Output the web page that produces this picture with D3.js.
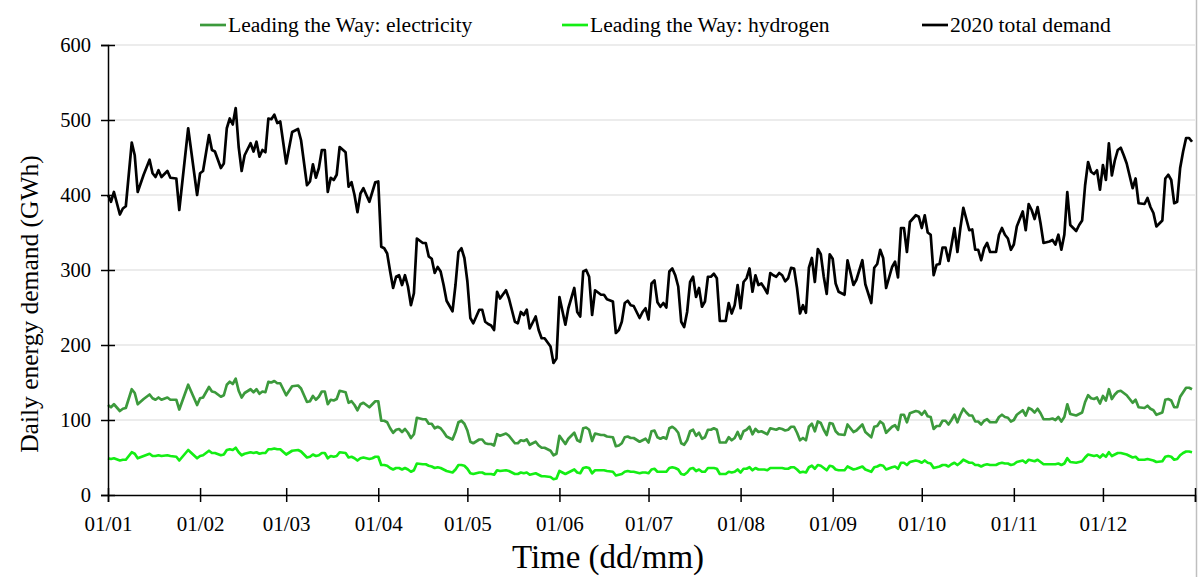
<!DOCTYPE html>
<html>
<head>
<meta charset="utf-8">
<script src="https://cdn.jsdelivr.net/npm/d3@7"></script>
<style>
  html, body { margin: 0; padding: 0; background: #fff; }
  svg { display: block; }
  text { font-family: "Liberation Serif", "Times New Roman", serif; fill: #000; }
</style>
</head>
<body>
<svg id="chart" width="1203" height="577"></svg>
<script>
// Day of year (0 = 1 January 2020) for each daily reading
const days = [
  0,1,2,4,5,6,8,9,10,12,
  14,15,16,17,18,20,21,23,24,27,
  30,31,32,34,35,36,38,39,40,41,
  42,43,44,45,46,48,49,50,51,52,
  53,54,55,56,57,58,60,62,64,65,
  67,68,69,70,71,72,73,74,75,76,
  77,78,80,81,82,83,84,85,86,88,
  89,90,91,92,93,94,95,96,97,98,
  99,100,101,102,103,104,106,107,108,109,
  110,111,112,113,114,116,117,118,119,120,
  121,122,123,125,126,127,128,129,130,131,
  132,134,135,137,138,139,140,141,142,144,
  145,146,147,149,150,151,152,154,155,157,
  158,159,160,161,162,163,164,166,167,168,
  170,171,172,173,174,175,176,177,179,180,
  181,182,183,184,185,186,187,188,189,190,
  191,192,193,194,195,196,197,198,199,200,
  201,202,203,204,205,206,208,209,210,211,
  212,213,214,215,216,217,218,219,220,221,
  222,223,224,225,226,227,228,229,230,231,
  232,233,234,235,236,237,238,239,240,241,
  242,243,244,245,246,248,249,251,252,254,
  255,257,258,259,260,261,262,264,265,266,
  267,268,269,270,272,273,274,275,276,277,
  278,279,280,281,282,283,284,285,286,287,
  288,289,290,291,292,293,294,295,296,297,
  299,300,301,302,303,304,305,306,308,309,
  310,311,312,313,314,315,317,318,319,320,
  321,322,323,324,326,327,328,329,330,331,
  332,333,334,335,336,337,338,339,340,341,
  342,343,345,346,347,349,350,351,352,353,
  355,356,357,358,359,360,361,362,363,364,
  365
];

// 2020 total demand (GWh per day)
const totalDemand = [
  400,391,404,374,382,385,470,453,404,427,
  447,429,424,433,424,432,423,422,380,489,
  400,429,432,480,460,458,436,442,489,502,
  494,516,464,432,453,469,458,471,451,460,
  457,502,501,507,496,498,442,484,488,473,
  413,418,441,423,436,460,460,404,423,420,
  427,464,457,411,417,400,377,402,409,391,
  404,417,418,331,329,322,298,276,291,293,
  280,293,278,253,269,342,336,336,318,315,
  296,304,298,280,259,245,280,324,329,316,
  285,236,229,247,247,231,228,226,220,271,
  262,273,262,231,229,244,240,247,222,238,
  220,209,209,198,176,182,264,227,249,276,
  244,238,298,300,291,240,273,267,267,261,
  258,216,220,231,256,259,253,252,236,244,
  249,234,282,286,257,251,256,250,298,302,
  293,278,231,224,244,284,291,264,276,251,
  258,291,291,295,289,232,232,256,242,253,
  280,249,284,289,302,271,293,280,282,276,
  269,296,293,291,296,293,285,289,303,302,
  276,242,253,243,303,316,284,328,321,291,
  268,321,315,282,271,267,313,280,287,313,
  281,256,303,308,327,316,276,304,311,290,
  356,356,324,364,373,371,356,373,350,347,
  293,307,308,330,330,312,333,356,324,356,
  383,368,353,354,327,327,313,329,336,324,
  324,347,356,347,342,327,334,358,378,353,
  388,380,368,384,362,336,338,340,334,347,
  327,347,404,360,352,360,366,413,444,431,
  428,433,407,440,420,469,426,446,460,463,
  453,442,409,422,389,388,396,384,376,358,
  366,422,427,420,389,391,436,458,476,476,
  471
];

// Leading the Way: electricity (GWh per day)
const electricity = [
  120,117,121,112,115,116,141,136,121,128,
  134,129,127,130,127,130,127,127,114,147,
  120,129,130,144,138,137,131,133,147,151,
  148,155,139,130,136,141,137,141,135,138,
  137,151,150,152,149,149,133,145,146,142,
  124,125,132,127,131,138,138,121,127,126,
  128,139,137,123,125,120,113,121,123,117,
  121,125,125,99,99,97,89,83,87,88,
  84,88,83,76,81,103,101,101,95,95,
  89,91,89,84,78,74,84,97,99,95,
  86,71,69,74,74,69,68,68,66,81,
  79,82,79,69,69,73,72,74,67,71,
  66,63,63,59,53,55,79,68,75,83,
  73,71,89,90,87,72,82,80,80,78,
  77,65,66,69,77,78,76,76,71,73,
  75,70,85,86,77,75,77,75,89,91,
  88,83,69,67,73,85,87,79,83,75,
  77,87,87,89,87,70,70,77,73,76,
  84,75,85,87,91,81,88,84,85,83,
  81,89,88,87,89,88,86,87,91,91,
  83,73,76,73,91,95,85,98,96,87,
  80,96,95,85,81,80,94,84,86,94,
  84,77,91,92,98,95,83,91,93,87,
  107,107,97,109,112,111,107,112,105,104,
  88,92,92,99,99,94,100,107,97,107,
  115,110,106,106,98,98,94,99,101,97,
  97,104,107,104,103,98,100,107,113,106,
  116,114,110,115,109,101,101,102,100,104,
  98,104,121,108,106,108,110,124,133,129,
  128,130,122,132,126,141,128,134,138,139,
  136,133,123,127,117,116,119,115,113,107,
  110,127,128,126,117,117,131,137,143,143,
  141
];

// Leading the Way: hydrogen (GWh per day)
const hydrogen = [
  49,48,49,46,47,47,57,55,49,52,
  55,52,52,53,52,53,52,51,46,60,
  49,52,53,59,56,56,53,54,60,61,
  60,63,57,53,55,57,56,57,55,56,
  56,61,61,62,61,61,54,59,60,58,
  50,51,54,52,53,56,56,49,52,51,
  52,57,56,50,51,49,46,49,50,48,
  49,51,51,40,40,39,36,34,36,36,
  34,36,34,31,33,42,41,41,39,38,
  36,37,36,34,32,30,34,40,40,39,
  35,29,28,30,30,28,28,28,27,33,
  32,33,32,28,28,30,29,30,27,29,
  27,25,25,24,21,22,32,28,30,34,
  30,29,36,37,36,29,33,33,33,32,
  31,26,27,28,31,32,31,31,29,30,
  30,29,34,35,31,31,31,31,36,37,
  36,34,28,27,30,35,36,32,34,31,
  31,36,36,36,35,28,28,31,30,31,
  34,30,35,35,37,33,36,34,34,34,
  33,36,36,36,36,36,35,35,37,37,
  34,30,31,30,37,39,35,40,39,36,
  33,39,38,34,33,33,38,34,35,38,
  34,31,37,38,40,39,34,37,38,35,
  43,43,40,44,46,45,43,46,43,42,
  36,37,38,40,40,38,41,43,40,43,
  47,45,43,43,40,40,38,40,41,40,
  40,42,43,42,42,40,41,44,46,43,
  47,46,45,47,44,41,41,41,41,42,
  40,42,49,44,43,44,45,50,54,53,
  52,53,50,54,51,57,52,54,56,56,
  55,54,50,51,47,47,48,47,46,44,
  45,51,52,51,47,48,53,56,58,58,
  57
];

// Axis ticks
const monthStartDays = [0,31,60,91,121,152,182,213,244,274,305,335,366];
const monthLabels = ["01/01","01/02","01/03","01/04","01/05","01/06","01/07","01/08","01/09","01/10","01/11","01/12",""];
const demandTicks = [0,100,200,300,400,500,600];

const seriesNames = ["Leading the Way: electricity", "Leading the Way: hydrogen", "2020 total demand"];

// ---- layout & style ----
const plot = { left: 108, right: 1195, top: 45, bottom: 495 };
const colors = ["#3c9a3c", "#14ee14", "#000000"];
const svg = d3.select("#chart");

const x = d3.scaleLinear().domain([0, 366]).range([plot.left, plot.right]);
const y = d3.scaleLinear().domain([0, 600]).range([plot.bottom, plot.top]);

// horizontal gridlines
svg.append("g")
  .selectAll("line")
  .data(demandTicks.filter(d => d > 0))
  .join("line")
  .attr("x1", plot.left).attr("x2", plot.right)
  .attr("y1", d => y(d)).attr("y2", d => y(d))
  .attr("stroke", "#d9d9d9").attr("stroke-width", 1);

// right border
svg.append("line")
  .attr("x1", plot.right + 1.5).attr("x2", plot.right + 1.5)
  .attr("y1", 0).attr("y2", 577)
  .attr("stroke", "#bfbfbf").attr("stroke-width", 1.5);

// series lines
const series = [electricity, hydrogen, totalDemand];
const line = d3.line()
  .x((d, i) => x(days[i]))
  .y(d => y(d));

series.forEach((vals, k) => {
  svg.append("path")
    .datum(vals)
    .attr("fill", "none")
    .attr("stroke", colors[k])
    .attr("stroke-width", 2.7)
    .attr("stroke-linejoin", "round")
    .attr("d", line);
});

// y axis
const yAxis = svg.append("g")
  .attr("transform", `translate(${plot.left},0)`)
  .call(d3.axisLeft(y).tickValues(demandTicks).tickSize(7).tickPadding(10));
yAxis.select(".domain").attr("stroke", "#000").attr("stroke-width", 1.5);
yAxis.selectAll(".tick line").attr("x1", -7).attr("x2", 7).attr("stroke", "#000").attr("stroke-width", 1.5);
yAxis.selectAll(".tick text").style("font-size", "20.5px").style("font-family", '"Liberation Serif", serif');

// x axis
const xAxis = svg.append("g")
  .attr("transform", `translate(0,${plot.bottom})`)
  .call(d3.axisBottom(x).tickValues(monthStartDays)
    .tickFormat((d, i) => monthLabels[i]).tickSize(7).tickPadding(14));
xAxis.select(".domain").attr("stroke", "#000").attr("stroke-width", 1.5);
xAxis.selectAll(".tick line").attr("y1", -7).attr("y2", 7).attr("stroke", "#000").attr("stroke-width", 1.5);
xAxis.selectAll(".tick text").style("font-size", "21px").style("font-family", '"Liberation Serif", serif');

// axis titles
svg.append("text")
  .attr("x", 608).attr("y", 568)
  .attr("text-anchor", "middle")
  .style("font-size", "33px")
  .text("Time (dd/mm)");

svg.append("text")
  .attr("transform", "translate(38,304) rotate(-90)")
  .attr("text-anchor", "middle")
  .style("font-size", "25.5px")
  .text("Daily energy demand (GWh)");

// legend
const legendX = [200, 562, 922];
const legend = svg.append("g");
seriesNames.forEach((name, k) => {
  legend.append("line")
    .attr("x1", legendX[k]).attr("x2", legendX[k] + 26)
    .attr("y1", 25).attr("y2", 25)
    .attr("stroke", colors[k]).attr("stroke-width", 2.7);
  legend.append("text")
    .attr("x", legendX[k] + 28).attr("y", 32)
    .style("font-size", "21.6px")
    .text(name);
});
</script>
</body>
</html>
